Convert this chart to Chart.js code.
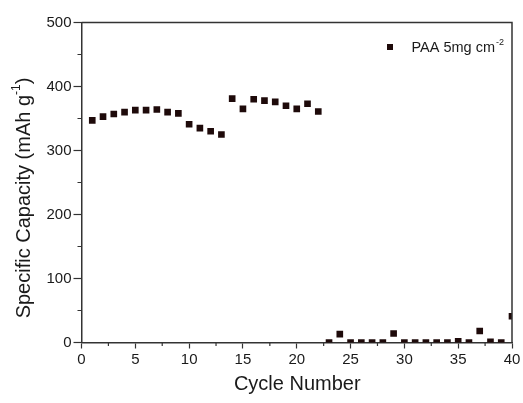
<!DOCTYPE html>
<html>
<head>
<meta charset="utf-8">
<script src="https://cdn.jsdelivr.net/npm/chart.js@4"></script>
<style>
  body { margin: 0; background: #fff; }
  canvas { display: block; }
</style>
</head>
<body>
<canvas id="chart" width="523" height="403"></canvas>
<script>
// -------- DATA --------
const cycles = [1, 2, 3, 4, 5, 6, 7, 8, 9, 10,
                11, 12, 13, 14, 15, 16, 17, 18, 19, 20,
                21, 22, 23, 24, 25, 26, 27, 28, 29, 30,
                31, 32, 33, 34, 35, 36, 37, 38, 39, 40];
const capacity = [347, 353, 357, 360, 363, 363, 364, 360, 358, 341,
                  335, 330, 325, 381, 365, 380, 378, 376, 370, 365,
                  373, 361, 0, 13, 0, 0, 0, 0, 14, 0,
                  0, 0, 0, 0, 2, 0, 18, 1, 0, 41];
const xTicks = [0, 5, 10, 15, 20, 25, 30, 35, 40];
const yTicks = [0, 100, 200, 300, 400, 500];
const seriesName = "PAA 5mg cm";
const seriesSup = "-2";

const axisColor = "#333";
const textColor = "#1a1a1a";
const markColor = "#1e0a0a";
const fontFam = "'Liberation Sans', Arial, sans-serif";

// -------- EXTRAS: frame, minor ticks, titles, legend --------
const extras = {
    id: "extras",
    afterDraw(chart) {
        const ctx = chart.ctx;
        const a = chart.chartArea;
        const xs = chart.scales.x;
        const ys = chart.scales.y;
        ctx.save();

        // frame (top + right)
        ctx.strokeStyle = axisColor;
        ctx.lineWidth = 1.5;
        ctx.beginPath();
        ctx.moveTo(a.left, a.top);
        ctx.lineTo(a.right, a.top);
        ctx.lineTo(a.right, a.bottom);
        ctx.stroke();

        // minor ticks
        ctx.lineWidth = 1.2;
        ctx.beginPath();
        for (let i = 0; i < yTicks.length - 1; i++) {
            const y = ys.getPixelForValue((yTicks[i] + yTicks[i + 1]) / 2);
            ctx.moveTo(a.left, y);
            ctx.lineTo(a.left - 4, y);
        }
        for (let i = 0; i < xTicks.length - 1; i++) {
            const x = xs.getPixelForValue((xTicks[i] + xTicks[i + 1]) / 2);
            ctx.moveTo(x, a.bottom);
            ctx.lineTo(x, a.bottom + 3.5);
        }
        ctx.stroke();

        // x title
        ctx.fillStyle = textColor;
        ctx.font = "20px " + fontFam;
        ctx.textAlign = "center";
        ctx.textBaseline = "middle";
        ctx.fillText("Cycle Number", (a.left + a.right) / 2 + 0.5, 384);

        // y title with superscript
        ctx.save();
        ctx.translate(24, 198);
        ctx.rotate(-Math.PI / 2);
        const main1 = "Specific Capacity (mAh g";
        const sup1 = "-1";
        const end1 = ")";
        ctx.font = "20px " + fontFam;
        const w1 = ctx.measureText(main1).width;
        const w3 = ctx.measureText(end1).width;
        ctx.font = "12px " + fontFam;
        const w2 = ctx.measureText(sup1).width;
        const total = w1 + w2 + w3;
        let x0 = -total / 2;
        ctx.textAlign = "left";
        ctx.font = "20px " + fontFam;
        ctx.fillText(main1, x0, 0);
        ctx.font = "12px " + fontFam;
        ctx.fillText(sup1, x0 + w1, -7);
        ctx.font = "20px " + fontFam;
        ctx.fillText(end1, x0 + w1 + w2, 0);
        ctx.restore();

        // legend
        ctx.fillStyle = markColor;
        ctx.fillRect(387, 44, 6, 6);
        ctx.fillStyle = textColor;
        ctx.font = "14.5px " + fontFam;
        ctx.textAlign = "left";
        ctx.textBaseline = "alphabetic";
        ctx.fillText(seriesName, 411.5, 52);
        const wl = ctx.measureText(seriesName).width;
        ctx.font = "9px " + fontFam;
        ctx.fillText(seriesSup, 411.5 + wl + 1, 45);

        ctx.restore();
    }
};

// -------- CHART --------
const chart = new Chart(document.getElementById("chart"), {
    type: "scatter",
    data: {
        datasets: [{
            label: seriesName,
            data: cycles.map((c, i) => ({ x: c, y: capacity[i] })),
            pointStyle: "rect",
            pointRadius: 4.7,
            pointHoverRadius: 4.7,
            backgroundColor: markColor,
            borderColor: markColor,
            borderWidth: 0,
            clip: 0
        }]
    },
    options: {
        responsive: false,
        animation: false,
        events: [],
        layout: { padding: { top: 22.5, right: 11, left: 0, bottom: 0 } },
        plugins: {
            legend: { display: false },
            tooltip: { enabled: false }
        },
        scales: {
            x: {
                type: "linear",
                min: 0,
                max: 40,
                afterBuildTicks: s => { s.ticks = xTicks.map(v => ({ value: v })); },
                afterFit: s => { s.height = 60.5; },
                ticks: {
                    color: textColor,
                    font: { family: fontFam, size: 15 },
                    padding: 2,
                    maxRotation: 0,
                    autoSkip: false
                },
                grid: {
                    drawOnChartArea: false,
                    drawTicks: true,
                    tickLength: 6,
                    tickWidth: 1.2,
                    tickColor: axisColor
                },
                border: { color: axisColor, width: 1.5 }
            },
            y: {
                type: "linear",
                min: 0,
                max: 500,
                afterBuildTicks: s => { s.ticks = yTicks.map(v => ({ value: v })); },
                afterFit: s => { s.width = 81.5; },
                ticks: {
                    color: textColor,
                    font: { family: fontFam, size: 15 },
                    padding: 2,
                    autoSkip: false
                },
                grid: {
                    drawOnChartArea: false,
                    drawTicks: true,
                    tickLength: 8,
                    tickWidth: 1.2,
                    tickColor: axisColor
                },
                border: { color: axisColor, width: 1.5 }
            }
        }
    },
    plugins: [extras]
});
</script>
</body>
</html>
